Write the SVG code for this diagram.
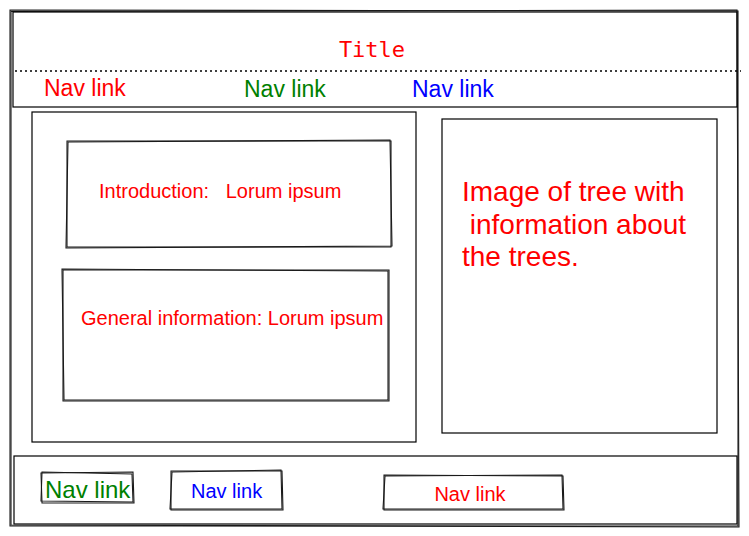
<svg xmlns="http://www.w3.org/2000/svg" width="749" height="536" viewBox="0 0 749 536">
<style>
.box{fill:none;stroke:#000;stroke-width:1.2}
.sk{fill:none;stroke:#1a1a1a;stroke-width:1.1;stroke-linecap:round}
.t{font-family:"Liberation Sans",Arial,sans-serif}
.mono{font-family:"DejaVu Sans Mono",monospace}
</style>
<rect width="749" height="536" fill="#fff"/>
<g id="page">
<path class="sk" d="M10 10 L738 11 L738 526 L10 526 Z"/>
<path class="sk" d="M11 11.5 L737 10 L739 527 L11 525 Z" stroke-width="0.8"/>
</g>
<g id="header">
<rect class="box" x="13" y="12" width="724" height="95"/>
<line x1="15" y1="71" x2="741" y2="71" stroke="#000" stroke-width="1.5" stroke-dasharray="2,3"/>
<text class="mono" x="372" y="57" font-size="22" fill="#ff0000" text-anchor="middle">Title</text>
<text class="t" x="44" y="96" font-size="23" fill="#ff0000">Nav link</text>
<text class="t" x="244" y="97" font-size="23" fill="#008000">Nav link</text>
<text class="t" x="412" y="97" font-size="23" fill="#0000ff">Nav link</text>
</g>
<g id="content">
<rect class="box" x="32" y="112" width="384" height="330"/>
</g>
<g id="intro">
<path class="sk" d="M67 141 L391 141 L391 247 L67 247 Z"/>
<path class="sk" d="M68 142 L390 140 L392 246 L66 248 Z" stroke-width="0.8"/>
<text class="t" x="99" y="198" font-size="20" fill="#ff0000" xml:space="preserve">Introduction:   Lorum ipsum</text>
</g>
<g id="general">
<path class="sk" d="M63 270 L389 270 L389 401 L63 401 Z"/>
<path class="sk" d="M62 269 L388 271 L388 400 L64 400 Z" stroke-width="0.8"/>
<text class="t" x="81" y="325" font-size="20" fill="#ff0000">General information: Lorum ipsum</text>
</g>
<g id="image">
<rect class="box" x="442" y="119" width="275" height="314"/>
<text class="t" font-size="28" fill="#ff0000" xml:space="preserve"><tspan x="462" y="201">Image of tree with</tspan><tspan x="462" y="234"> information about</tspan><tspan x="462" y="266">the trees.</tspan></text>
</g>
<g id="footer">
<rect class="box" x="14" y="456" width="723" height="68"/>
</g>
<g id="foot-nav-1">
<path class="sk" d="M41 473 L133 472 L134 503 L42 503 Z"/>
<path class="sk" d="M42 472 L132 474 L133 502 L41 501 Z" stroke-width="0.8"/>
<text class="t" x="45" y="498" font-size="24" fill="#008000">Nav link</text>
</g>
<g id="foot-nav-2">
<path class="sk" d="M171 471 L282 471 L283 510 L171 510 Z"/>
<path class="sk" d="M172 472 L281 470 L282 509 L170 509 Z" stroke-width="0.8"/>
<text class="t" x="191" y="498" font-size="20" fill="#0000ff">Nav link</text>
</g>
<g id="foot-nav-3">
<path class="sk" d="M384 475 L563 476 L564 510 L384 510 Z"/>
<path class="sk" d="M385 476 L562 475 L563 509 L383 509 Z" stroke-width="0.8"/>
<text class="t" x="470" y="501" font-size="20" fill="#ff0000" text-anchor="middle">Nav link</text>
</g>
<g id="connectors"/>
</svg>
